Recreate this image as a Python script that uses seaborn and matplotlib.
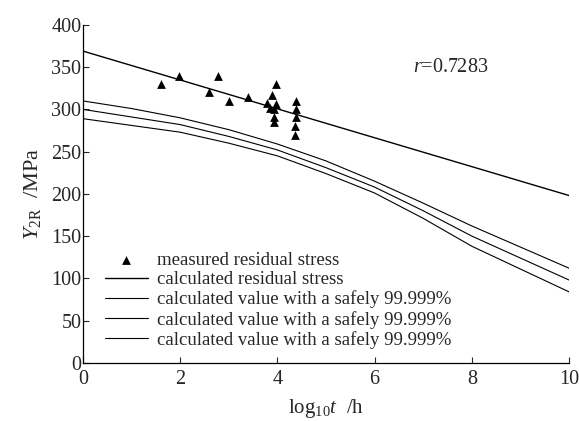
"""
plot.py

Residual stress versus log time, measured points and calculated curves.
"""

import matplotlib

matplotlib.use("Agg")

import matplotlib.pyplot as plt
import numpy as np
import pandas as pd
import seaborn as sns

# measured residual stress (log10 t, MPa)
measured_x = [1.6, 1.98, 2.59, 2.79, 3.0, 3.39, 3.78, 3.85, 3.9, 3.93, 3.94,
              3.94, 3.97, 3.98, 4.36, 4.36, 4.38, 4.38, 4.38]
measured_y = [330, 340, 321, 340, 310, 315, 308, 302, 317, 300, 291,
              285, 306, 330, 280, 270, 310, 300, 291]

# calculated residual stress (straight fit)
fit_x = [0, 10]
fit_y = [369, 198]

# calculated values with a safety of 99.999%
curve_x = [0, 1, 2, 3, 4, 5, 6, 7, 8, 9, 10]
curve_upper = [310, 301, 290, 276, 259, 239, 215, 189, 162, 137, 112]
curve_middle = [300, 291, 282, 268, 252, 231, 208, 180, 150, 124, 98]
curve_lower = [289, 281, 273, 260, 245, 224, 201, 171, 138, 111, 84]

curve_label = "calculated value with a safely 99.999%"


def main():
    sns.set_style("ticks")
    plt.rcParams["font.family"] = ["Liberation Serif", "DejaVu Serif"]
    plt.rcParams["mathtext.fontset"] = "custom"
    plt.rcParams["mathtext.rm"] = "Liberation Serif"
    plt.rcParams["mathtext.it"] = "Liberation Serif:italic"
    plt.rcParams["xtick.direction"] = "in"
    plt.rcParams["ytick.direction"] = "in"

    fig = plt.figure(figsize=(5.79, 4.21), dpi=100)
    ax = fig.add_axes([0.143, 0.138, 0.84, 0.803])

    sns.scatterplot(
        x=measured_x, y=measured_y, ax=ax, marker="^", color="black",
        s=40, edgecolor="black", linewidth=0, label="measured residual stress",
    )
    sns.lineplot(
        x=fit_x, y=fit_y, ax=ax, color="black", linewidth=1.0,
        label="calculated residual stress",
    )

    curves = pd.DataFrame({
        "x": curve_x * 3,
        "y": curve_upper + curve_middle + curve_lower,
        "curve": ["upper"] * len(curve_x) + ["middle"] * len(curve_x)
        + ["lower"] * len(curve_x),
    })
    for name in ["upper", "middle", "lower"]:
        sub = curves[curves["curve"] == name]
        sns.lineplot(
            data=sub, x="x", y="y", ax=ax, color="black", linewidth=0.8,
            label=curve_label,
        )

    ax.set_xlim(0, 10)
    ax.set_ylim(0, 400)
    ax.set_xticks(np.arange(0, 11, 2))
    ax.set_yticks(np.arange(0, 401, 50))
    ax.tick_params(labelsize=14.5, length=4, width=0.8)
    ax.tick_params(axis="x", pad=5)
    ax.tick_params(axis="y", pad=1)
    for spine in ["left", "bottom"]:
        ax.spines[spine].set_linewidth(0.9)
        ax.spines[spine].set_color("black")
    sns.despine(ax=ax)

    ax.set_xlabel(r"log$_{10}\mathit{t}$  /h", fontsize=15, labelpad=6)
    ax.set_ylabel(r"$\mathit{Y}_{\mathrm{2R}}$  /MPa", fontsize=16, labelpad=6)

    ax.text(6.78, 350, r"$\mathit{r}$=0.7283", fontsize=14.5, va="center")

    ax.legend(
        loc="lower left", bbox_to_anchor=(0.03, 0.02), frameon=False,
        fontsize=13.5, handlelength=2.3, handletextpad=0.5, labelspacing=0.12,
        borderaxespad=0,
    )

    fig.savefig("out.png", dpi=100)


if __name__ == "__main__":
    main()
